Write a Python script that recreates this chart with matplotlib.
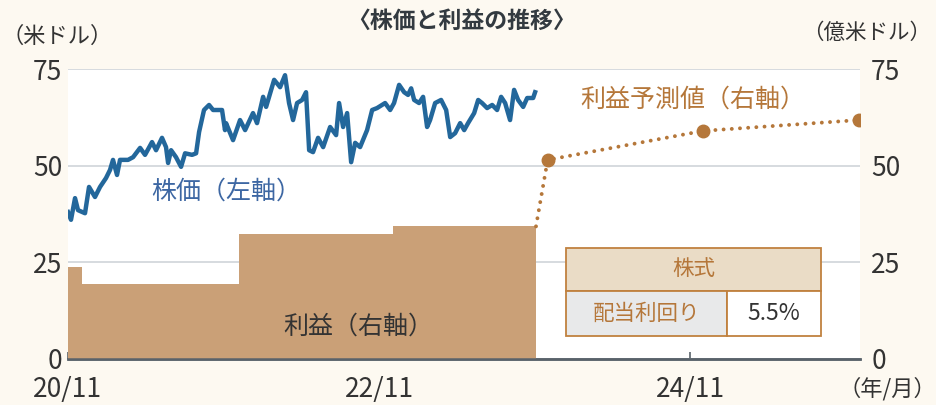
import matplotlib.pyplot as plt
from matplotlib.patches import Rectangle

plt.rcParams["font.family"] = ["Noto Sans CJK JP", "DejaVu Sans"]

# x positions are months counted from 2020/11
stock_month = [0.0, 0.23, 0.54, 0.77, 1.31, 1.62, 2.08, 2.47, 2.93, 3.24, 3.47, 3.78,
               4.01, 4.63, 5.02, 5.56, 5.94, 6.48, 6.79, 7.25, 7.56, 7.72, 7.95, 8.33,
               8.72, 9.03, 9.57, 9.88, 10.11, 10.49, 10.88, 11.19, 11.88, 12.11, 12.19,
               12.73, 13.27, 13.66, 14.27, 14.58, 15.05, 15.28, 15.90, 16.36, 16.74,
               17.05, 17.36, 17.67, 18.06, 18.36, 18.60, 18.90, 19.29, 19.68, 20.22,
               20.68, 20.91, 21.22, 21.53, 21.84, 22.15, 22.53, 23.07, 23.46, 23.84,
               24.46, 24.85, 25.15, 25.54, 25.93, 26.23, 26.47, 26.70, 27.08, 27.39,
               27.70, 27.93, 28.32, 28.78, 29.17, 29.48, 29.86, 30.25, 30.56, 30.86,
               31.33, 31.64, 31.94, 32.33, 32.72, 33.10, 33.41, 33.72, 34.10, 34.41,
               34.72, 35.11, 35.42, 35.88, 36.03]
stock_price = [38.0, 36.0, 41.6, 38.5, 37.7, 44.5, 41.9, 44.5, 46.8, 48.9, 51.5, 47.6,
               51.5, 51.5, 52.2, 54.6, 52.8, 56.1, 54.0, 57.2, 54.8, 50.7, 54.0, 52.2,
               49.7, 53.2, 52.8, 53.2, 58.7, 64.4, 65.7, 64.4, 64.4, 59.2, 61.0,
               56.6, 61.8, 59.2, 63.6, 61.0, 67.8, 65.2, 72.2, 70.3, 73.4,
               66.2, 61.8, 66.2, 67.0, 69.0, 54.0, 53.5, 57.2, 54.8, 60.0,
               57.9, 66.2, 60.0, 63.6, 50.9, 55.9, 54.8, 59.2, 64.4, 64.9,
               66.2, 64.4, 66.2, 70.9, 69.0, 68.3, 70.0, 67.0, 66.2, 67.8,
               60.0, 61.8, 66.2, 67.0, 64.4, 57.4, 58.4, 61.0, 59.2, 61.0,
               63.6, 67.0, 66.2, 64.9, 65.7, 64.4, 67.8, 66.2, 61.8, 69.6,
               67.0, 65.2, 67.5, 67.5, 69.0]

earn_month = [0.0, 1.08, 13.2, 25.1, 36.1]
earn_value = [23.8, 19.4, 32.3, 34.3, 34.3]

fc_month = [36.1, 37.0, 49.0, 61.0]
fc_value = [34.3, 51.5, 59.0, 61.8]

xtick_pos = [0, 24, 48]
xtick_lab = ["20/11", "22/11", "24/11"]
yticks = [0, 25, 50, 75]

bg = "#fdf9f1"
blue = "#23679b"
tan = "#caa077"
brown = "#b5773a"
dark = "#333333"

fig = plt.figure(figsize=(9.37, 4.05), dpi=100, facecolor=bg)
ax = fig.add_axes([0.0726, 0.1136, 0.8453, 0.716])
ax2 = ax.twinx()
ax.set_facecolor("white")

for ax_ in (ax, ax2):
    ax_.set_xlim(0, 61.1)
    ax_.set_ylim(0, 75)
    for s in ("top", "left", "right"):
        ax_.spines[s].set_visible(False)
    ax_.spines["bottom"].set_color("#59626a")
    ax_.spines["bottom"].set_linewidth(1.8)
    ax_.set_yticks(yticks)

ax.yaxis.grid(True, color="#d3d8dc", linewidth=1.3)
ax.set_axisbelow(True)
ax.tick_params(axis="y", length=0, labelsize=19, colors=dark, pad=4)
ax2.tick_params(axis="y", length=0, labelsize=19, colors=dark, pad=8)
ax.set_xticks(xtick_pos)
ax.set_xticklabels(xtick_lab)
ax.tick_params(axis="x", direction="in", length=5, width=1.2, color="#59626a",
               labelsize=19, labelcolor=dark, pad=12)
ax2.tick_params(axis="x", length=0)

# earnings (right axis)
ax2.fill_between(earn_month, earn_value, step="post", color=tan, linewidth=0, zorder=1)
ax2.plot(fc_month, fc_value, color=brown, linewidth=2.8,
         linestyle=(0, (0.01, 2.1)), dash_capstyle="round", zorder=3)
ax2.plot(fc_month[1:], fc_value[1:], "o", color=brown, markersize=9, zorder=4)

# stock price (left axis), drawn on top
ax2.plot(stock_month, stock_price, color=blue, linewidth=3.2, zorder=5)

ax2.text(12.2, 43.2, "株価（左軸）", color="#3d67a3", fontsize=18, ha="center", va="center")
ax2.text(48.2, 67.0, "利益予測値（右軸）", color=brown, fontsize=18, ha="center", va="center")
ax2.text(22.4, 8.3, "利益（右軸）", color=dark, fontsize=18, ha="center", va="center")

# dividend yield table
tx0, tx1, tx2 = 38.43, 50.85, 58.1
ty0, ty1, ty2 = 5.95, 17.6, 28.7
ax2.add_patch(Rectangle((tx0, ty1), tx2 - tx0, ty2 - ty1, facecolor="#eadcc6",
                        edgecolor="#c0813f", linewidth=1.3, zorder=6))
ax2.add_patch(Rectangle((tx0, ty0), tx1 - tx0, ty1 - ty0, facecolor="#e8e9ea",
                        edgecolor="#c0813f", linewidth=1.3, zorder=6))
ax2.add_patch(Rectangle((tx1, ty0), tx2 - tx1, ty1 - ty0, facecolor="white",
                        edgecolor="#c0813f", linewidth=1.3, zorder=6))
ax2.text((tx0 + tx2) / 2, (ty1 + ty2) / 2, "株式", color=brown, fontsize=15.5,
         ha="center", va="center", zorder=7)
ax2.text((tx0 + tx1) / 2, (ty0 + ty1) / 2, "配当利回り", color=brown, fontsize=15.5,
         ha="center", va="center", zorder=7)
ax2.text((tx1 + tx2) / 2, (ty0 + ty1) / 2, "5.5%", color=dark, fontsize=16.5,
         ha="center", va="center", zorder=7)

fig.text(0.493, 0.946, "〈株価と利益の推移〉", fontsize=16.5, fontweight="bold",
         color="#333a40", ha="center", va="center")
fig.text(0.061, 0.909, "（米ドル）", fontsize=16, color=dark, ha="center", va="center")
fig.text(0.994, 0.918, "（億米ドル）", fontsize=15.5, color=dark, ha="right", va="center")
fig.text(0.999, 0.04, "（年/月）", fontsize=16, color=dark, ha="right", va="center")

fig.savefig("out.png", dpi=100, facecolor=bg)
